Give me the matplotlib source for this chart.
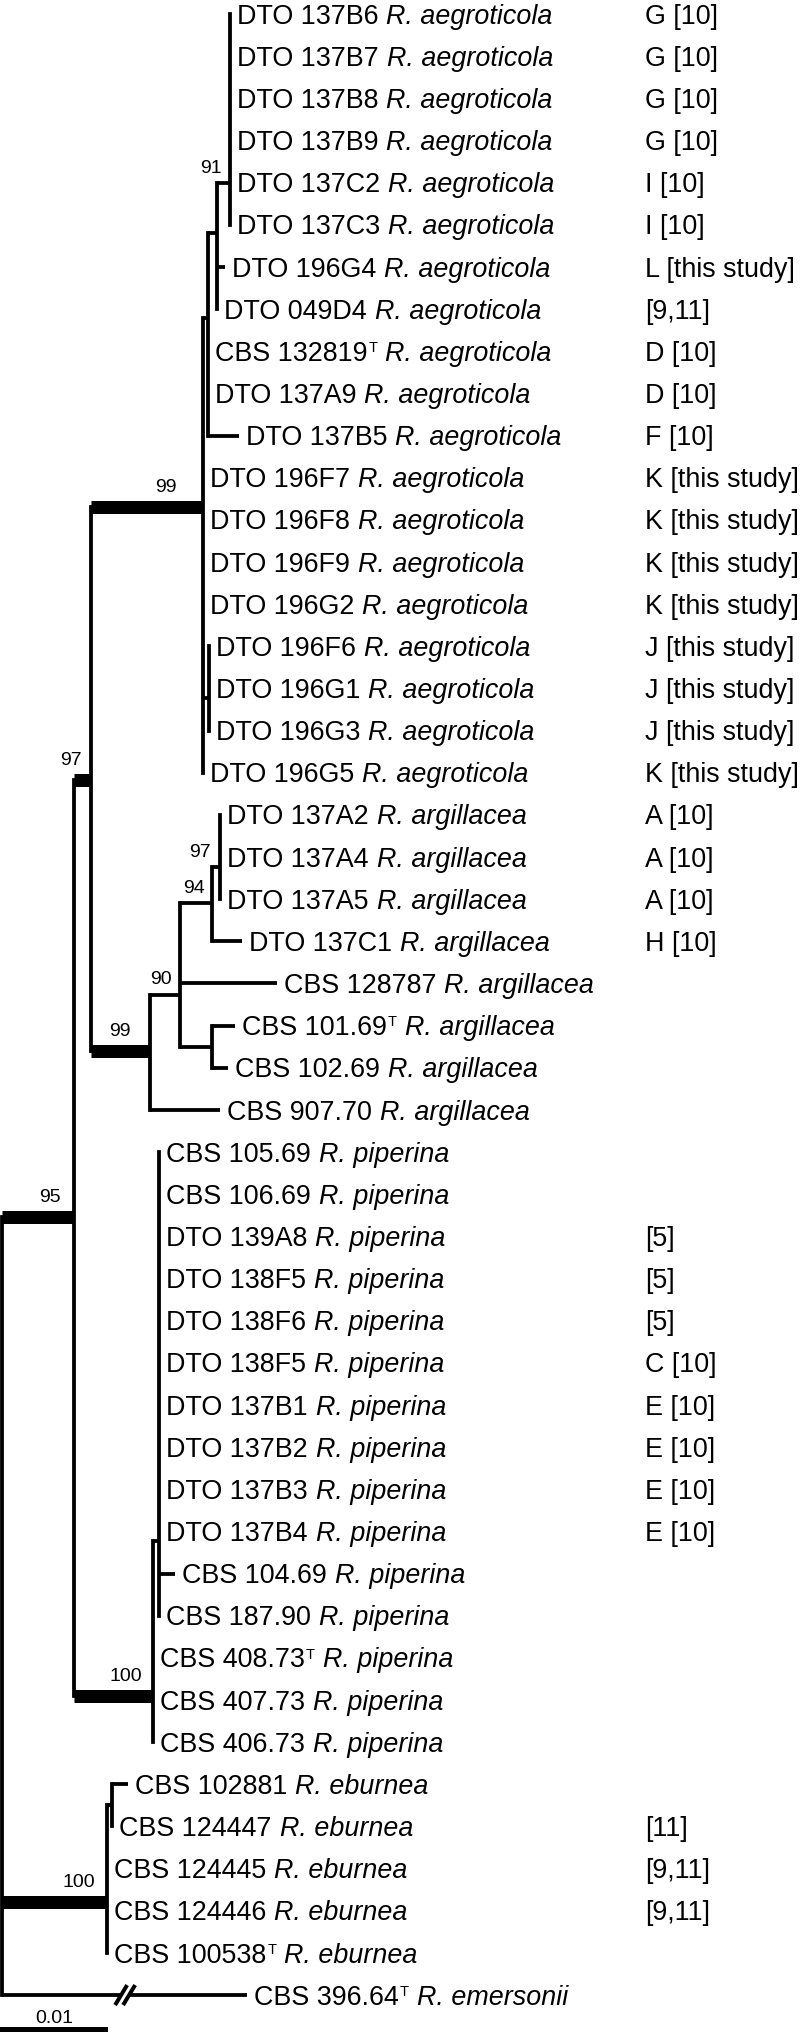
import matplotlib
matplotlib.use("Agg")
import matplotlib.pyplot as plt

plt.rcParams['font.family'] = ['Liberation Sans', 'DejaVu Sans']

# ---------------- data ----------------
tip_ids = ["DTO 137B6", "DTO 137B7", "DTO 137B8", "DTO 137B9", "DTO 137C2", "DTO 137C3",
           "DTO 196G4", "DTO 049D4", "CBS 132819", "DTO 137A9", "DTO 137B5", "DTO 196F7",
           "DTO 196F8", "DTO 196F9", "DTO 196G2", "DTO 196F6", "DTO 196G1", "DTO 196G3",
           "DTO 196G5",
           "DTO 137A2", "DTO 137A4", "DTO 137A5", "DTO 137C1", "CBS 128787", "CBS 101.69",
           "CBS 102.69", "CBS 907.70",
           "CBS 105.69", "CBS 106.69", "DTO 139A8", "DTO 138F5", "DTO 138F6", "DTO 138F5",
           "DTO 137B1", "DTO 137B2", "DTO 137B3", "DTO 137B4", "CBS 104.69", "CBS 187.90",
           "CBS 408.73", "CBS 407.73", "CBS 406.73",
           "CBS 102881", "CBS 124447", "CBS 124445", "CBS 124446", "CBS 100538",
           "CBS 396.64"]
type_strain = {8, 24, 39, 46, 47}
tip_species = (["R. aegroticola"] * 19 + ["R. argillacea"] * 8 + ["R. piperina"] * 15
               + ["R. eburnea"] * 5 + ["R. emersonii"])
tip_notes = ["G [10]", "G [10]", "G [10]", "G [10]", "I [10]", "I [10]", "L [this study]",
             "[9,11]", "D [10]", "D [10]", "F [10]", "K [this study]", "K [this study]",
             "K [this study]", "K [this study]", "J [this study]", "J [this study]",
             "J [this study]", "K [this study]",
             "A [10]", "A [10]", "A [10]", "H [10]", "", "", "", "",
             "", "", "[5]", "[5]", "[5]", "C [10]", "E [10]", "E [10]", "E [10]", "E [10]",
             "", "", "", "", "",
             "", "[11]", "[9,11]", "[9,11]", "",
             ""]
# distance of each tip from the root (substitutions/site)
tip_depth = [0.02111] * 6 + [0.02065, 0.01991, 0.01907, 0.01907, 0.02194] + [0.01861] * 4 \
    + [0.01917] * 3 + [0.01861] \
    + [0.02019] * 3 + [0.02222, 0.02546, 0.02157, 0.02093, 0.02019] \
    + [0.01454] * 10 + [0.01602, 0.01454] + [0.01398] * 3 \
    + [0.01167, 0.01023] + [0.00972] * 3 \
    + [0.02269]

# internal nodes: name -> (depth, attach row, children, bootstrap)
nodes = {
    "A91": (0.02111, 4.01, [0, 1, 2, 3, 4, 5], "91"),
    "B": (0.01991, 5.20, ["A91", 6, 7], ""),
    "C": (0.01907, 7.21, ["B", 8, 9, 10], ""),
    "E": (0.01917, 16.23, [15, 16, 17], ""),
    "D99": (0.01861, 11.70, ["C", 11, 12, 13, 14, "E", 18], "99"),
    "J97": (0.02019, 20.24, [19, 20, 21], "97"),
    "H94": (0.01944, 21.09, ["J97", 22], "94"),
    "I": (0.01944, 24.51, [24, 25], ""),
    "G90": (0.01648, 23.27, ["H94", 23, "I"], "90"),
    "F99": (0.01370, 24.60, ["G90", 26], "99"),
    "n97": (0.00824, 18.17, ["D99", "F99"], "97"),
    "L": (0.01454, 36.23, list(range(27, 39)), ""),
    "K100": (0.01398, 39.91, ["L", 39, 40, 41], "100"),
    "n95": (0.00667, 28.54, ["n97", "K100"], "95"),
    "N": (0.01023, 42.49, [42, 43], ""),
    "M100": (0.00972, 44.79, ["N", 44, 45, 46], "100"),
    "root": (0.0, None, ["n95", "M100", 47], ""),
}
thick_stems = {"D99", "n97", "F99", "n95", "K100", "M100"}
broken_tip = 47          # truncated branch (R. emersonii)
break_depth = 0.0114
scale_start, scale_len, scale_label = -0.0002, 0.01, "0.01"
notes_x = 0.05954

# ---------------- style ----------------
PX_PER_UNIT = 10800.0
ROW_PX = 42.15
THIN_PX, THICK_PX = 3.8, 13.0
pt = 72.0 / 100.0
FS, FS_T, FS_S = 19.4, 10.5, 14
CAP = FS * 100 / 72 * 0.716
CAP_T = FS_T * 100 / 72 * 0.716
label_gap = {"D99": 26, "F99": 19, "n95": 13, "K100": 11, "M100": 12, "n97": 9,
             "J97": 9, "H94": 7}

fig = plt.figure(figsize=(8.02, 20.32), dpi=100)
ax = fig.add_axes([0, 0, 1, 1])
ax.set_xlim(-2 / PX_PER_UNIT, 800 / PX_PER_UNIT)
ax.set_ylim((2032 - 14) / ROW_PX, -14 / ROW_PX)
ax.axis("off")


def row_of(c):
    return c if isinstance(c, int) else nodes[c][1]


def depth_of(c):
    return tip_depth[c] if isinstance(c, int) else nodes[c][0]


for name, (d, r, children, boot) in nodes.items():
    rows = [row_of(c) for c in children]
    ax.plot([d, d], [min(rows), max(rows)], color="black", lw=THIN_PX * pt,
            solid_capstyle="projecting")
    for c in children:
        cd, cr = depth_of(c), row_of(c)
        if cd <= d:
            continue
        lw = THICK_PX if (not isinstance(c, int) and c in thick_stems) else THIN_PX
        if c == broken_tip:
            g = 4 / PX_PER_UNIT
            ax.plot([d, break_depth - g], [cr, cr], color="black", lw=lw * pt,
                    solid_capstyle="butt")
            ax.plot([break_depth + g, cd], [cr, cr], color="black", lw=lw * pt,
                    solid_capstyle="butt")
            for cx in (break_depth - g, break_depth + g):
                ax.plot([cx - 6 / PX_PER_UNIT, cx + 6 / PX_PER_UNIT],
                        [cr + 10 / ROW_PX, cr - 10 / ROW_PX], color="black",
                        lw=4 * pt, solid_capstyle="butt")
        else:
            ax.plot([d, cd], [cr, cr], color="black", lw=lw * pt, solid_capstyle="butt")

# bootstrap labels
for name, (d, r, children, boot) in nodes.items():
    if not boot:
        continue
    lw = THICK_PX if name in thick_stems else THIN_PX
    ax.annotate(boot, xy=(d, r), xytext=(-label_gap.get(name, 8), lw / 2 + 8.5),
                textcoords="offset pixels", ha="right", va="baseline", fontsize=FS_S)

# tip labels
for i, sid in enumerate(tip_ids):
    t1 = ax.annotate(sid, xy=(tip_depth[i], i), xytext=(7, -CAP / 2),
                     textcoords="offset pixels", ha="left", va="baseline", fontsize=FS)
    prev = t1
    gap = 8
    if i in type_strain:
        prev = ax.annotate("T", xy=(1, i), xycoords=(t1, "data"),
                           xytext=(1, -CAP / 2 + CAP - CAP_T), textcoords="offset pixels",
                           ha="left", va="baseline", fontsize=FS_T)
        gap = 8
    ax.annotate(tip_species[i], xy=(1, i), xycoords=(prev, "data"),
                xytext=(gap, -CAP / 2), textcoords="offset pixels", ha="left",
                va="baseline", fontsize=FS, style="italic")
    if tip_notes[i]:
        ax.annotate(tip_notes[i], xy=(notes_x, i), xytext=(0, -CAP / 2),
                    textcoords="offset pixels", ha="left", va="baseline", fontsize=FS)

# scale bar
sb_row = (2030 - 14) / ROW_PX
ax.plot([scale_start, scale_start + scale_len], [sb_row, sb_row], color="black",
        lw=6 * pt, solid_capstyle="butt")
ax.annotate(scale_label, xy=(scale_start + scale_len / 2, sb_row), xytext=(0, 7),
            textcoords="offset pixels", ha="center", va="baseline", fontsize=FS_S)

fig.savefig("out.png", dpi=100, facecolor="white")
